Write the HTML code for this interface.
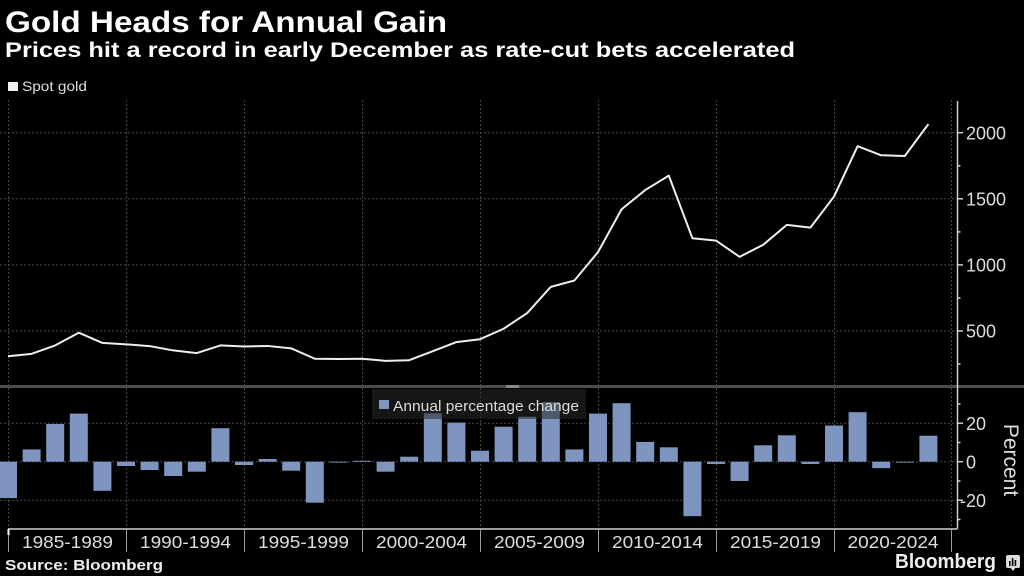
<!DOCTYPE html>
<html><head><meta charset="utf-8"><style>
html,body{margin:0;padding:0;background:#000;}
svg{display:block;}
text{font-family:"Liberation Sans",sans-serif;}
</style></head><body>
<svg width="1024" height="576" viewBox="0 0 1024 576" xmlns="http://www.w3.org/2000/svg">
<rect x="0" y="0" width="1024" height="576" fill="#000"/>
<!-- Titles -->
<text x="5" y="32" font-size="30" font-weight="bold" fill="#fff" textLength="442" lengthAdjust="spacingAndGlyphs">Gold Heads for Annual Gain</text>
<text x="5" y="57" font-size="21" font-weight="bold" fill="#fff" textLength="790" lengthAdjust="spacingAndGlyphs">Prices hit a record in early December as rate-cut bets accelerated</text>
<!-- Spot gold legend -->
<rect x="8" y="82" width="10" height="9" fill="#f0f0f0"/>
<text x="22" y="91" font-size="14" fill="#ddd" textLength="65" lengthAdjust="spacingAndGlyphs">Spot gold</text>

<!-- grid: vertical dotted -->
<g stroke="#4a4a4a" stroke-width="1" stroke-dasharray="2,2">
<line x1="8.5" y1="100" x2="8.5" y2="529"/>
<line x1="126.5" y1="100" x2="126.5" y2="529"/>
<line x1="244.5" y1="100" x2="244.5" y2="529"/>
<line x1="362.5" y1="100" x2="362.5" y2="529"/>
<line x1="480.5" y1="100" x2="480.5" y2="529"/>
<line x1="598.5" y1="100" x2="598.5" y2="529"/>
<line x1="716.5" y1="100" x2="716.5" y2="529"/>
<line x1="834.5" y1="100" x2="834.5" y2="529"/>
<line x1="951.5" y1="100" x2="951.5" y2="529"/>
</g>
<!-- grid: horizontal dotted top -->
<g stroke="#4a4a4a" stroke-width="1" stroke-dasharray="2,2">
<line x1="0" y1="132.7" x2="957" y2="132.7"/>
<line x1="0" y1="198.8" x2="957" y2="198.8"/>
<line x1="0" y1="264.9" x2="957" y2="264.9"/>
<line x1="0" y1="331" x2="957" y2="331"/>
<line x1="0" y1="423.2" x2="957" y2="423.2"/>
<line x1="0" y1="461.7" x2="957" y2="461.7"/>
<line x1="0" y1="500.2" x2="957" y2="500.2"/>
</g>

<!-- line series -->
<polyline fill="none" stroke="#eee" stroke-width="2" stroke-linejoin="round" points="8,356.25 31.6,353.87 55.2,345.41 78.8,332.72 102.4,342.9 126,344.35 149.6,346.07 173.2,350.43 196.8,353.08 220.4,345.41 244,346.47 267.6,345.94 291.2,348.32 314.8,358.76 338.4,359.03 362,358.76 385.6,360.88 409.2,360.22 432.8,351.23 456.4,342.1 480,339.2 503.6,328.75 527.2,313.02 550.8,286.85 574.4,280.5 598,252.08 621.6,209.24 645.2,190.07 668.8,175.66 692.4,238.2 716,240.58 739.6,256.84 763.2,244.81 786.8,224.84 810.4,227.62 834,196.55 857.6,146.18 881.2,155.31 904.8,155.97 928.4,124.11"/>

<!-- bars -->
<g fill="#7d95bf">
<rect x="-1" y="461.7" width="18" height="36.4"/>
<rect x="22.6" y="449.4" width="18" height="12.3"/>
<rect x="46.2" y="424" width="18" height="37.7"/>
<rect x="69.8" y="413.6" width="18" height="48.1"/>
<rect x="93.4" y="461.7" width="18" height="29.1"/>
<rect x="117" y="461.7" width="18" height="4.3"/>
<rect x="140.6" y="461.7" width="18" height="8.3"/>
<rect x="164.2" y="461.7" width="18" height="14.3"/>
<rect x="187.8" y="461.7" width="18" height="10"/>
<rect x="211.4" y="428.2" width="18" height="33.5"/>
<rect x="235" y="461.7" width="18" height="3.3"/>
<rect x="258.6" y="459" width="18" height="2.7"/>
<rect x="282.2" y="461.7" width="18" height="9"/>
<rect x="305.8" y="461.7" width="18" height="41"/>
<rect x="329.4" y="461.7" width="18" height="0.9"/>
<rect x="353" y="460.8" width="18" height="0.9"/>
<rect x="376.6" y="461.7" width="18" height="10"/>
<rect x="400.2" y="456.7" width="18" height="5"/>
<rect x="423.8" y="413.2" width="18" height="48.5"/>
<rect x="447.4" y="422.6" width="18" height="39.1"/>
<rect x="471" y="450.7" width="18" height="11"/>
<rect x="494.6" y="426.7" width="18" height="35"/>
<rect x="518.2" y="416.7" width="18" height="45"/>
<rect x="541.8" y="402" width="18" height="59.7"/>
<rect x="565.4" y="449.4" width="18" height="12.3"/>
<rect x="589" y="413.6" width="18" height="48.1"/>
<rect x="612.6" y="403.2" width="18" height="58.5"/>
<rect x="636.2" y="441.9" width="18" height="19.8"/>
<rect x="659.8" y="447.3" width="18" height="14.4"/>
<rect x="683.4" y="461.7" width="18" height="54.5"/>
<rect x="707" y="461.7" width="18" height="2.3"/>
<rect x="730.6" y="461.7" width="18" height="19.3"/>
<rect x="754.2" y="445.3" width="18" height="16.4"/>
<rect x="777.8" y="435.3" width="18" height="26.4"/>
<rect x="801.4" y="461.7" width="18" height="2.3"/>
<rect x="825" y="425.5" width="18" height="36.2"/>
<rect x="848.6" y="412.2" width="18" height="49.5"/>
<rect x="872.2" y="461.7" width="18" height="6.5"/>
<rect x="895.8" y="461.7" width="18" height="0.9"/>
<rect x="919.4" y="435.7" width="18" height="26"/>
</g>

<!-- separator -->
<rect x="0" y="385" width="1024" height="3" fill="#4d4d4d"/>
<rect x="506" y="385" width="13" height="3" fill="#8a8a8a"/>

<!-- bar legend -->
<rect x="372" y="389" width="214" height="30" fill="rgba(40,40,40,0.55)"/>
<rect x="379" y="400" width="10" height="9" fill="#7d95bf"/>
<text x="393" y="411" font-size="14.5" fill="#ddd" textLength="186" lengthAdjust="spacingAndGlyphs">Annual percentage change</text>

<!-- y axis -->
<g stroke="#cfcfcf" stroke-width="1.5">
<line x1="957.5" y1="101" x2="957.5" y2="528.5"/>
<line x1="957.5" y1="132.7" x2="963" y2="132.7"/>
<line x1="957.5" y1="198.8" x2="963" y2="198.8"/>
<line x1="957.5" y1="264.9" x2="963" y2="264.9"/>
<line x1="957.5" y1="331" x2="963" y2="331"/>
<line x1="957.5" y1="165.8" x2="960.5" y2="165.8"/>
<line x1="957.5" y1="231.9" x2="960.5" y2="231.9"/>
<line x1="957.5" y1="298" x2="960.5" y2="298"/>
<line x1="957.5" y1="364" x2="960.5" y2="364"/>
<line x1="957.5" y1="423.2" x2="963" y2="423.2"/>
<line x1="957.5" y1="461.7" x2="963" y2="461.7"/>
<line x1="957.5" y1="500.2" x2="963" y2="500.2"/>
<line x1="957.5" y1="404" x2="960.5" y2="404"/>
<line x1="957.5" y1="442.5" x2="960.5" y2="442.5"/>
<line x1="957.5" y1="481" x2="960.5" y2="481"/>
<line x1="957.5" y1="519.5" x2="960.5" y2="519.5"/>
</g>
<g font-size="18" fill="#ddd">
<text x="966" y="139.3">2000</text>
<text x="966" y="205.4">1500</text>
<text x="966" y="271.5">1000</text>
<text x="966" y="337.6">500</text>
<text x="966" y="429.8">20</text>
<text x="966" y="468.3">0</text>
<text x="960" y="506.8">-20</text>
</g>
<text transform="translate(1004,460) rotate(90)" text-anchor="middle" font-size="21" fill="#ddd">Percent</text>

<!-- x axis -->
<line x1="8" y1="529" x2="957.5" y2="529" stroke="#cfcfcf" stroke-width="1.5"/>
<g stroke="#9a9a9a" stroke-width="1">
<line x1="8.5" y1="529" x2="8.5" y2="552"/>
<line x1="126.5" y1="529" x2="126.5" y2="552"/>
<line x1="244.5" y1="529" x2="244.5" y2="552"/>
<line x1="362.5" y1="529" x2="362.5" y2="552"/>
<line x1="480.5" y1="529" x2="480.5" y2="552"/>
<line x1="598.5" y1="529" x2="598.5" y2="552"/>
<line x1="716.5" y1="529" x2="716.5" y2="552"/>
<line x1="834.5" y1="529" x2="834.5" y2="552"/>
<line x1="951.5" y1="529" x2="951.5" y2="552"/>
</g>
<line x1="8.5" y1="529" x2="8.5" y2="535" stroke="#fff" stroke-width="2"/>
<g font-size="17.5" fill="#ddd" text-anchor="middle">
<text x="67.5" y="548" textLength="91" lengthAdjust="spacingAndGlyphs">1985-1989</text>
<text x="185.5" y="548" textLength="91" lengthAdjust="spacingAndGlyphs">1990-1994</text>
<text x="303.5" y="548" textLength="91" lengthAdjust="spacingAndGlyphs">1995-1999</text>
<text x="421.5" y="548" textLength="91" lengthAdjust="spacingAndGlyphs">2000-2004</text>
<text x="539.5" y="548" textLength="91" lengthAdjust="spacingAndGlyphs">2005-2009</text>
<text x="657.5" y="548" textLength="91" lengthAdjust="spacingAndGlyphs">2010-2014</text>
<text x="775.5" y="548" textLength="91" lengthAdjust="spacingAndGlyphs">2015-2019</text>
<text x="893" y="548" textLength="91" lengthAdjust="spacingAndGlyphs">2020-2024</text>
</g>

<!-- footer -->
<text x="5" y="570" font-size="15" font-weight="bold" fill="#eee" textLength="158" lengthAdjust="spacingAndGlyphs">Source: Bloomberg</text>
<text x="895" y="568" font-size="20" font-weight="bold" fill="#eee" textLength="101" lengthAdjust="spacingAndGlyphs">Bloomberg</text>
<rect x="1006" y="555" width="14" height="13" rx="2" fill="#ddd"/>
<polygon points="1010,567 1013,571 1016,567" fill="#ddd"/>
<g fill="#000">
<rect x="1009" y="561" width="1.6" height="5"/>
<rect x="1011.8" y="558" width="1.6" height="8"/>
<rect x="1014.6" y="560" width="1.6" height="6"/>
</g>
</svg>
</body></html>
